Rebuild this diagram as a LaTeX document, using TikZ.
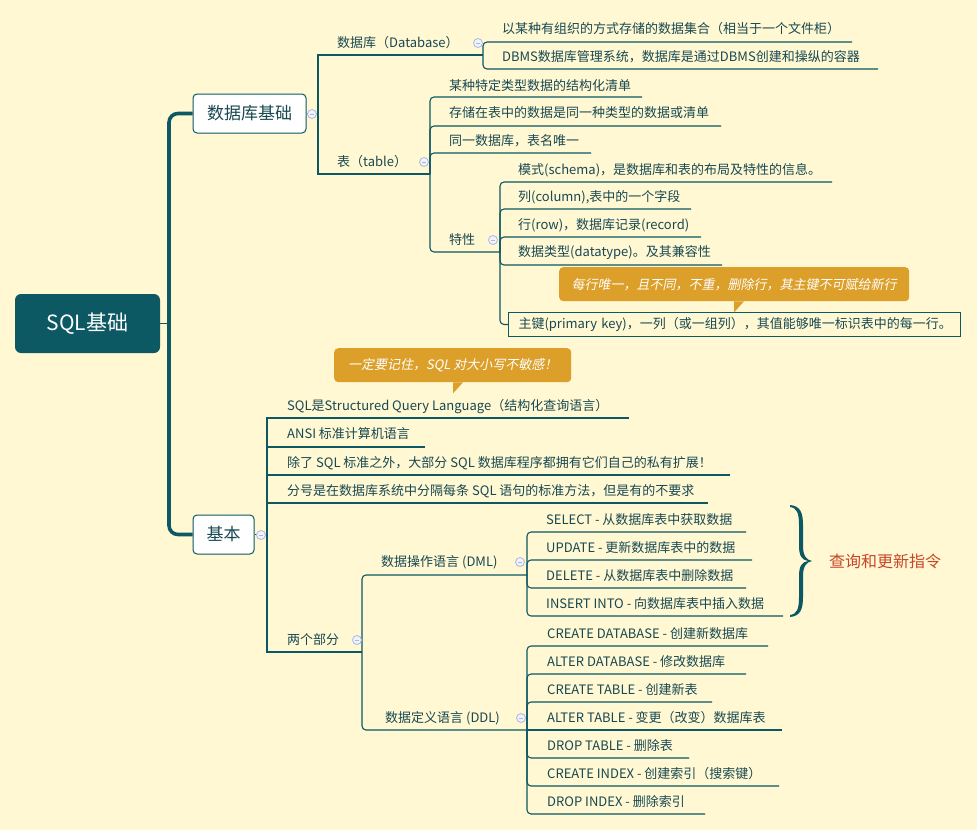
\documentclass[tikz,border=0pt]{standalone}
\usepackage{fontspec}
\setmainfont{Noto Sans CJK SC}
\newfontfamily\callfont{Noto Sans CJK SC}[FakeSlant=0.2]
\definecolor{bgc}{RGB}{255,248,211}
\definecolor{teal}{RGB}{12,88,99}
\definecolor{textc}{RGB}{24,72,82}
\definecolor{orng}{RGB}{220,159,42}
\definecolor{redt}{RGB}{200,70,40}
\definecolor{cstroke}{RGB}{172,182,226}
\definecolor{cfill}{RGB}{242,242,250}
\tikzset{
  txt/.style={anchor=west, inner sep=0pt, text=textc, font=\fontsize{13}{15}\selectfont},
  conn/.style={draw=teal, line width=1.1pt},
  connr/.style={draw=teal, line width=1.1pt, rounded corners=4pt},
  mainbox/.style={draw=teal, fill=white, line width=1pt, rounded corners=4pt, text=textc, font=\fontsize{17}{19}\selectfont, inner sep=0pt},
  rootbox/.style={fill=teal, rounded corners=6pt, text=white, font=\fontsize{21}{24}\selectfont, inner sep=0pt, minimum width=145pt, minimum height=59pt},
  callout/.style={fill=orng, rounded corners=4pt, text=white, font=\callfont\fontsize{13}{15}\selectfont, inner sep=0pt, anchor=north west},
  pkbox/.style={draw=teal, line width=1pt, anchor=west, inner xsep=10pt, inner ysep=0pt, minimum height=24pt, text width=432pt, align=left, text=textc, font=\fontsize{13}{15}\selectfont},
  collapse/.style={circle, draw=cstroke, fill=cfill, line width=0.8pt, minimum size=9pt, inner sep=0pt,
    path picture={\draw[cstroke, line width=0.9pt] ([xshift=-2.3pt]path picture bounding box.center) -- ([xshift=2.3pt]path picture bounding box.center);}}
}
\begin{document}
\begin{tikzpicture}[x=1pt,y=-1pt]
\fill[bgc] (0,0) rectangle (977,830);
\useasboundingbox (0,0) rectangle (977,830);

% ---------- root and main topics ----------
\node[rootbox] (root) at (87.5,323.5) {SQL基础};
\node[mainbox, minimum width=113pt, minimum height=39pt] (dbb) at (249.5,113.5) {数据库基础};
\node[mainbox, minimum width=61pt, minimum height=39pt] (jb) at (223.5,534.5) {基本};
\coordinate (tr) at (169,323.5);
\draw[teal, line width=1pt] (root.east) -- (tr);
\draw[teal, line width=3.6pt, rounded corners=9pt] (dbb.west) -| (tr) |- (jb.west);

% ---------- 数据库基础 ----------
\coordinate (dbb-j) at (318,113.5);
\draw[conn] (dbb.east) -- (dbb-j);
\node[txt] (dbase) at (337,43) {数据库（Database）};
\coordinate (dbase-e) at (483,55);
\node[txt] (tbl) at (337,162) {表（table）};
\coordinate (tbl-e) at (430,174);
\draw[conn] (dbb-j) |- (dbase-e);
\draw[conn] (dbb-j) |- (tbl-e);

\node[txt] (d1) at (502,29) {以某种有组织的方式存储的数据集合（相当于一个文件柜）};
\coordinate (d1-e) at (852,42);
\node[txt] (d2) at (502,57) {DBMS数据库管理系统，数据库是通过DBMS创建和操纵的容器};
\coordinate (d2-e) at (878,69);
\draw[connr] (dbase-e) |- (d1-e);
\draw[connr] (dbase-e) |- (d2-e);

\node[txt] (t1) at (449,86) {某种特定类型数据的结构化清单};
\coordinate (t1-e) at (642,97);
\node[txt] (t2) at (449,113) {存储在表中的数据是同一种类型的数据或清单};
\coordinate (t2-e) at (721,126);
\node[txt] (t3) at (449,141) {同一数据库，表名唯一};
\coordinate (t3-e) at (591,153);
\node[txt] (tx) at (449,240) {特性};
\coordinate (tx-e) at (500,252);
\draw[connr] (tbl-e) |- (t1-e);
\draw[connr] (tbl-e) |- (t2-e);
\draw[connr] (tbl-e) |- (t3-e);
\draw[connr] (tbl-e) |- (tx-e);

\node[txt] (s1) at (518,170) {模式(schema)，是数据库和表的布局及特性的信息。};
\coordinate (s1-e) at (832,182);
\node[txt] (s2) at (518,197) {列(column),表中的一个字段};
\coordinate (s2-e) at (691,209);
\node[txt] (s3) at (518,225) {行(row)，数据库记录(record)};
\coordinate (s3-e) at (701,237);
\node[txt] (s4) at (518,253) {数据类型(datatype)。及其兼容性};
\coordinate (s4-e) at (722,265);
\node[pkbox] (pk) at (508,324.5) {主键(primary key)，一列（或一组列），其值能够唯一标识表中的每一行。};
\draw[connr] (tx-e) |- (s1-e);
\draw[connr] (tx-e) |- (s2-e);
\draw[connr] (tx-e) |- (s3-e);
\draw[connr] (tx-e) |- (s4-e);
\draw[connr] (tx-e) |- (pk.west);

\node[callout, minimum width=350pt, minimum height=34pt] (c2) at (559,267) {每行唯一，且不同，不重，删除行，其主键不可赋给新行};
\fill[orng] (c2.south west) ++(175,0) -- ++(0,11) -- ++(10,-11) -- cycle;

% ---------- 基本 ----------
\coordinate (jb-j) at (267,534.5);
\draw[conn] (jb.east) -- (jb-j);
\node[txt] (b1) at (287,407) {SQL是Structured Query Language（结构化查询语言）};
\coordinate (b1-e) at (629,418);
\node[txt] (b2) at (287,434) {ANSI 标准计算机语言};
\coordinate (b2-e) at (425,447);
\node[txt] (b3) at (287,463) {除了 SQL 标准之外，大部分 SQL 数据库程序都拥有它们自己的私有扩展！};
\coordinate (b3-e) at (730,475);
\node[txt] (b4) at (287,491) {分号是在数据库系统中分隔每条 SQL 语句的标准方法，但是有的不要求};
\coordinate (b4-e) at (708,503);
\node[txt] (b5) at (287,640) {两个部分};
\coordinate (b5-e) at (362,652);
\draw[conn] (jb-j) |- (b1-e);
\draw[conn] (jb-j) |- (b2-e);
\draw[conn] (jb-j) |- (b3-e);
\draw[conn] (jb-j) |- (b4-e);
\draw[conn] (jb-j) |- (b5-e);

\node[callout, minimum width=237pt, minimum height=34pt] (c1) at (334,348) {一定要记住，SQL 对大小写不敏感！};
\fill[orng] (c1.south west) ++(119,0) -- ++(0,11) -- ++(10,-11) -- cycle;

\node[txt] (ml) at (381,562) {数据操作语言 (DML)};
\coordinate (ml-e) at (527,575);
\node[txt] (dl) at (385,718) {数据定义语言 (DDL)};
\coordinate (dl-e) at (527,730);
\draw[connr] (b5-e) |- (ml-e);
\draw[connr] (b5-e) |- (dl-e);

\node[txt] (m1) at (546,520) {SELECT - 从数据库表中获取数据};
\coordinate (m1-e) at (746,532);
\node[txt] (m2) at (546,548) {UPDATE - 更新数据库表中的数据};
\coordinate (m2-e) at (752,560);
\node[txt] (m3) at (546,576) {DELETE - 从数据库表中删除数据};
\coordinate (m3-e) at (746,588);
\node[txt] (m4) at (546,604) {INSERT INTO - 向数据库表中插入数据};
\coordinate (m4-e) at (783,616);
\draw[connr] (ml-e) |- (m1-e);
\draw[connr] (ml-e) |- (m2-e);
\draw[connr] (ml-e) |- (m3-e);
\draw[connr] (ml-e) |- (m4-e);

\node[txt] (n1) at (547,634) {CREATE DATABASE - 创建新数据库};
\coordinate (n1-e) at (768,646);
\node[txt] (n2) at (547,662) {ALTER DATABASE - 修改数据库};
\coordinate (n2-e) at (746,674);
\node[txt] (n3) at (547,690) {CREATE TABLE - 创建新表};
\coordinate (n3-e) at (712,702);
\node[txt] (n4) at (547,718) {ALTER TABLE - 变更（改变）数据库表};
\coordinate (n4-e) at (782,730);
\node[txt] (n5) at (547,746) {DROP TABLE - 删除表};
\coordinate (n5-e) at (689,758);
\node[txt] (n6) at (547,774) {CREATE INDEX - 创建索引（搜索键）};
\coordinate (n6-e) at (779,786);
\node[txt] (n7) at (547,802) {DROP INDEX - 删除索引};
\coordinate (n7-e) at (705,814);
\draw[connr] (dl-e) |- (n1-e);
\draw[connr] (dl-e) |- (n2-e);
\draw[connr] (dl-e) |- (n3-e);
\draw[connr] (dl-e) -- (n4-e);
\draw[connr] (dl-e) |- (n5-e);
\draw[connr] (dl-e) |- (n6-e);
\draw[connr] (dl-e) |- (n7-e);

% ---------- brace and note ----------
\fill[teal] (790,505) .. controls (800,506) and (803,512) .. (803,525) -- (803,546)
  .. controls (803,555) and (806,560) .. (812,561)
  .. controls (806,562) and (803,567) .. (803,576) -- (803,597)
  .. controls (803,610) and (800,616) .. (790,617) -- (790,615)
  .. controls (797,614) and (799,609) .. (799,597) -- (799,576)
  .. controls (799,566) and (802,562) .. (808,561)
  .. controls (802,560) and (799,556) .. (799,546) -- (799,525)
  .. controls (799,513) and (797,508) .. (790,507) -- cycle;
\node[anchor=west, inner sep=0pt, text=redt, font=\fontsize{16}{18}\selectfont] (note) at (829,561) {查询和更新指令};

% ---------- collapse markers ----------
\node[collapse] (k1) at (312,114) {};
\node[collapse] (k2) at (478,43) {};
\node[collapse] (k3) at (424,162) {};
\node[collapse] (k4) at (493,240) {};
\node[collapse] (k5) at (261,535) {};
\node[collapse] (k6) at (357,640) {};
\node[collapse] (k7) at (520,562) {};
\node[collapse] (k8) at (521,718) {};
\end{tikzpicture}
\end{document}
